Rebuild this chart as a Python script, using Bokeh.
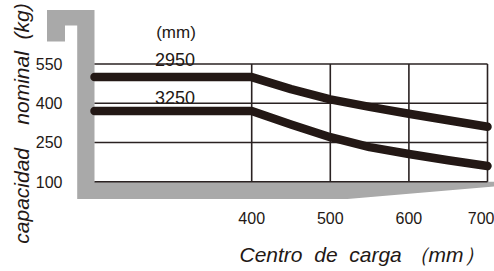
import math
from bokeh.plotting import figure
from bokeh.models import Range1d, LinearAxis, FixedTicker, Label
from bokeh.embed import file_html
from bokeh.resources import INLINE

# ---- data ----
centro_mm = [200, 400, 450, 500, 550, 600, 650, 700]
cap_2950 = [500, 500, 454, 415, 386, 360, 335, 310]
cap_3250 = [370, 370, 319, 270, 232, 206, 182, 160]
x_ticks = [400, 500, 600, 700]
y_ticks = [100, 250, 400, 550]
x_tick_labels = ["400", "500", "600", "700"]
y_tick_labels = ["100", "250", "400", "550"]
series_names = ["2950", "3250"]
unit_label = "(mm)"
x_title = "Centro\u00a0\u00a0de\u00a0\u00a0carga\u00a0（mm）"
y_title = "capacidad\u00a0\u00a0\u00a0\u00a0nominal\u00a0\u00a0(kg)"

# ---- layout (page pixels -> data) ----
W, H = 494, 271
PAGE = 0
X200_PX, X700_PX = 94.0, 487.0
Y550_PX, Y100_PX = 63.5, 181.2
kx = (X700_PX - X200_PX) / 500.0
ky = (Y100_PX - Y550_PX) / 450.0


def px_to_x(px):
    return 200 + (px - X200_PX) / kx


def py_to_y(py):
    return 100 + (Y100_PX - py) / ky


def rx(px_ref):  # reference picture px -> data x
    return px_to_x(px_ref)


INK = "#231815"
GRID = "#2a2222"
GRAY = "#a9a9a9"
FONT = "Liberation Sans"

p = figure(width=W, height=H, output_backend="svg", toolbar_location=None,
           x_range=Range1d(px_to_x(PAGE), px_to_x(PAGE + W)),
           y_range=Range1d(py_to_y(PAGE + H), py_to_y(PAGE)),
           x_axis_type=None, y_axis_type=None,
           min_border_left=0, min_border_right=0, min_border_top=0, min_border_bottom=0)
p.outline_line_color = None
p.background_fill_color = "white"
p.border_fill_color = "white"

# gray fork / mast frame
mast_x = [rx(46.5), 200, 200, rx(494), rx(494), rx(347), rx(76.7), rx(76.7), rx(64.5), rx(64.5), rx(46.5)]
mast_y = [py_to_y(9.5), py_to_y(9.5), 100, 100, py_to_y(186), py_to_y(198.5), py_to_y(198.5),
          py_to_y(25), py_to_y(25), py_to_y(41), py_to_y(41)]
p.patch(mast_x, mast_y, fill_color=GRAY, line_color=None)

# grid
p.segment(x0=[centro_mm[0]] * len(y_ticks), y0=y_ticks, x1=[x_ticks[-1]] * len(y_ticks), y1=y_ticks,
          line_color=GRID, line_width=1.6)
p.segment(x0=x_ticks, y0=[y_ticks[0]] * len(x_ticks), x1=x_ticks, y1=[y_ticks[-1]] * len(x_ticks),
          line_color=GRID, line_width=1.6)

# curves
for ys in (cap_2950, cap_3250):
    p.line(centro_mm, ys, line_width=8.5, line_color=INK, line_cap="round", line_join="round")

yaxis = LinearAxis(fixed_location=rx(62), ticker=FixedTicker(ticks=y_ticks),
                   major_label_overrides=dict(zip(y_ticks, y_tick_labels)),
                   axis_line_color=None, major_tick_line_color=None, minor_tick_line_color=None,
                   major_tick_out=0, major_tick_in=0, major_label_standoff=0,
                   major_label_text_font=FONT, major_label_text_font_size="16px",
                   major_label_text_color=INK)
p.add_layout(yaxis, "left")

xaxis = LinearAxis(fixed_location=py_to_y(211.5), ticker=FixedTicker(ticks=x_ticks),
                   major_label_overrides=dict(zip(x_ticks, x_tick_labels)),
                   axis_line_color=None, major_tick_line_color=None, minor_tick_line_color=None,
                   major_tick_out=0, major_tick_in=0, major_label_standoff=0,
                   major_label_text_font=FONT, major_label_text_font_size="16px",
                   major_label_text_color=INK)
p.add_layout(xaxis, "below")

# series labels
p.add_layout(Label(x=rx(175.5), y=py_to_y(32), text=unit_label, text_align="center",
                   text_baseline="alphabetic", text_font=FONT, text_font_size="17px", text_color=INK))
for name, py in zip(series_names, (59, 97)):
    p.add_layout(Label(x=rx(174.5), y=py_to_y(py), text=name, text_align="center",
                       text_baseline="alphabetic", text_font=FONT, text_font_size="18px", text_color=INK))

# axis titles
p.add_layout(Label(x=rx(239), y=py_to_y(254), text=x_title, text_align="left",
                   text_baseline="alphabetic", text_font=FONT, text_font_style="italic",
                   text_font_size="21px", text_color=INK))
p.add_layout(Label(x=rx(21), y=py_to_y(123), text=y_title, angle=math.pi / 2,
                   text_align="center", text_baseline="alphabetic", text_font=FONT,
                   text_font_style="italic", text_font_size="21px", text_color=INK))

open("out.html", "w").write(file_html(p, INLINE))
